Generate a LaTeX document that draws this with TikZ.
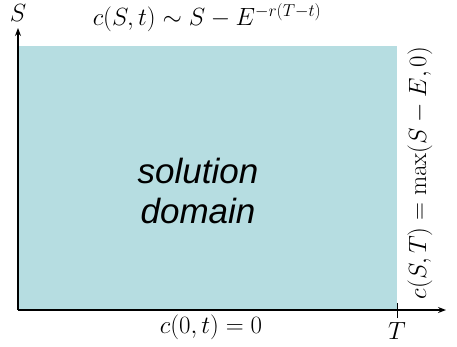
\documentclass[tikz,border=0pt]{standalone}
\usepackage[no-math]{fontspec}
\newfontfamily\domainfont{Liberation Sans}
\usetikzlibrary{arrows.meta}
\definecolor{domainfill}{RGB}{182,221,225}
\begin{document}
\begin{tikzpicture}[x=1pt,y=-1pt,
  axis/.style={line width=1.5pt,-{Stealth[length=8pt,width=6pt]}},
  bclabel/.style={font=\fontsize{23}{26}\selectfont}]
\useasboundingbox (0,0) rectangle (457,346);
\fill[domainfill] (18,46) rectangle (397,310);
\coordinate (O) at (18,310);
\coordinate (Send) at (18,28);
\coordinate (tend) at (446,310);
\coordinate (Ttick) at (397,310);
\draw[axis] (O)--(Send);
\draw[axis] (O)--(tend);
\draw[line width=0.8pt] ([yshift=-8pt]Ttick)--([yshift=7pt]Ttick);
\node[bclabel] (Slab) at (18,13) {$S$};
\node[bclabel] (Tlab) at (397,331) {$T$};
\node[bclabel] (top) at (207,18) {$c(S,t)\sim S-E^{-r(T-t)}$};
\node[bclabel] (bottom) at (211,327) {$c(0,t)=0$};
\node[bclabel,rotate=90] (right) at (420,173) {$c(S,T)=\max(S-E,0)$};
\node[font=\domainfont\itshape\fontsize{35}{40}\selectfont,align=center] (dom) at (198,191) {solution\\domain};
\end{tikzpicture}
\end{document}
